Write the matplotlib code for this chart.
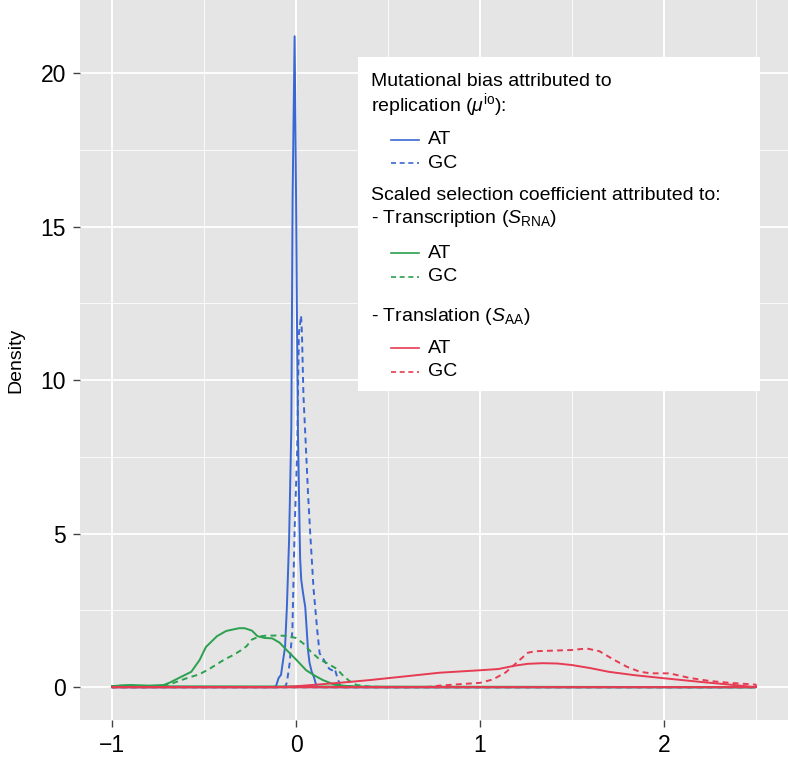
import matplotlib

matplotlib.use("Agg")
import matplotlib.pyplot as plt
from matplotlib.lines import Line2D
from matplotlib.patches import Rectangle

plt.rcParams["font.family"] = ["Liberation Sans", "DejaVu Sans"]
plt.rcParams["mathtext.fontset"] = "custom"
plt.rcParams["mathtext.rm"] = "Liberation Sans"
plt.rcParams["mathtext.it"] = "Liberation Sans:italic"

# density curves (x, density)
rep_at_x = [-1.0, -0.12, -0.108, -0.095, -0.082, -0.07, -0.06, -0.05, -0.038, -0.026,
            -0.022, -0.019, -0.008, 0.0, 0.004, 0.010, 0.018, 0.022, 0.028, 0.037,
            0.05, 0.065, 0.073, 0.085, 0.097, 0.11, 0.118, 2.5]
rep_at_y = [0.0, 0.0, 0.05, 0.3, 0.4, 0.9, 1.3, 2.6, 4.8, 8.4,
            12.6, 15.9, 21.2, 15.9, 12.6, 8.4, 5.5, 4.2, 3.5, 3.1,
            2.6, 1.2, 0.8, 0.5, 0.33, 0.05, 0.0, 0.0]

rep_gc_x = [-1.0, -0.06, -0.05, -0.035, -0.02, -0.008, 0.006, 0.015, 0.027, 0.032,
            0.04, 0.052, 0.065, 0.077, 0.095, 0.115, 0.128, 0.15, 0.165, 0.18,
            0.195, 0.21, 0.225, 0.24, 0.26, 2.5]
rep_gc_y = [0.0, 0.0, 0.15, 0.78, 1.86, 5.1, 7.7, 11.5, 12.1, 11.5,
            9.5, 8.0, 6.3, 5.0, 3.2, 1.86, 1.1, 0.9, 0.75, 0.6,
            0.55, 0.6, 0.3, 0.05, 0.0, 0.0]

rna_at_x = [-1.0, -0.95, -0.9, -0.8, -0.72, -0.69, -0.63, -0.57, -0.525, -0.49,
            -0.43, -0.38, -0.31, -0.28, -0.24, -0.21, -0.17, -0.13, -0.09, -0.05,
            0.0, 0.055, 0.1, 0.146, 0.2, 0.24, 0.3, 0.4, 2.5]
rna_at_y = [0.03, 0.06, 0.07, 0.05, 0.07, 0.14, 0.32, 0.5, 0.88, 1.31,
            1.66, 1.83, 1.92, 1.92, 1.84, 1.66, 1.6, 1.59, 1.45, 1.2,
            0.9, 0.55, 0.38, 0.23, 0.1, 0.06, 0.02, 0.0, 0.0]

rna_gc_x = [-1.0, -0.8, -0.72, -0.66, -0.6, -0.525, -0.47, -0.43, -0.39, -0.34,
            -0.3, -0.27, -0.24, -0.2, -0.16, -0.1, -0.05, 0.0, 0.04, 0.073,
            0.128, 0.175, 0.22, 0.255, 0.29, 0.33, 0.4, 0.5, 2.5]
rna_gc_y = [0.0, 0.0, 0.04, 0.15, 0.28, 0.42, 0.6, 0.75, 0.9, 1.05,
            1.2, 1.33, 1.55, 1.65, 1.68, 1.68, 1.67, 1.6, 1.42, 1.2,
            0.9, 0.76, 0.6, 0.38, 0.2, 0.07, 0.02, 0.0, 0.0]

aa_at_x = [-1.0, -0.1, 0.0, 0.15, 0.29, 0.4, 0.56, 0.78, 1.0, 1.1,
           1.19, 1.26, 1.34, 1.42, 1.5, 1.6, 1.7, 1.84, 2.0, 2.2,
           2.38, 2.5]
aa_at_y = [0.0, 0.0, 0.03, 0.1, 0.17, 0.23, 0.33, 0.47, 0.55, 0.59,
           0.7, 0.76, 0.78, 0.77, 0.72, 0.62, 0.5, 0.39, 0.29, 0.17,
           0.07, 0.0]

aa_gc_x = [-1.0, 0.6, 0.72, 0.78, 0.9, 1.0, 1.07, 1.14, 1.2, 1.26,
           1.3, 1.4, 1.5, 1.58, 1.65, 1.72, 1.8, 1.87, 1.93, 2.03,
           2.14, 2.25, 2.36, 2.48, 2.5]
aa_gc_y = [0.0, 0.0, 0.01, 0.05, 0.1, 0.14, 0.25, 0.48, 0.8, 1.12,
           1.17, 1.19, 1.21, 1.26, 1.17, 0.92, 0.66, 0.5, 0.45, 0.45,
           0.3, 0.2, 0.14, 0.09, 0.08]

BLUE = "#3a67d1"
GREEN = "#2ba04e"
RED = "#e63b52"

series = [
    (rep_at_x, rep_at_y, BLUE, "-"),
    (rep_gc_x, rep_gc_y, BLUE, "--"),
    (rna_at_x, rna_at_y, GREEN, "-"),
    (rna_gc_x, rna_gc_y, GREEN, "--"),
    (aa_at_x, aa_at_y, RED, "-"),
    (aa_gc_x, aa_gc_y, RED, "--"),
]

W, H = 788, 760
fig = plt.figure(figsize=(W / 100, H / 100), dpi=100)
ax = fig.add_axes([80 / W, 40 / H, 708 / W, 720 / H])
ax.set_facecolor("#e5e5e5")
for s in ax.spines.values():
    s.set_visible(False)

ax.set_xlim(-1.175, 2.675)
ax.set_ylim(-1.07, 22.38)
ax.set_xticks([-1, 0, 1, 2])
ax.set_xticklabels(["\u22121", "0", "1", "2"])
ax.set_yticks([0, 5, 10, 15, 20])
ax.set_xticks([-0.5, 0.5, 1.5, 2.5], minor=True)
ax.set_yticks([2.5, 7.5, 12.5, 17.5], minor=True)
ax.grid(which="major", color="white", lw=1.3)
ax.grid(which="minor", color="white", lw=0.6)
ax.set_axisbelow(True)
ax.tick_params(which="major", length=5, width=1, color="#444444",
               labelsize=16.5, labelcolor="black", pad=5)
ax.tick_params(which="minor", length=0)
ax.set_ylabel("Density", fontsize=14, labelpad=12)

# ggplot-style density outlines: curve plus closing baseline
for xs, ys, col, ls in series:
    px = list(xs) + [xs[-1], xs[0]]
    py = list(ys) + [0.0, ys[0]]
    line, = ax.plot(px, py, color=col, lw=1.4, ls=ls, solid_joinstyle="round")
    if ls == "--":
        line.set_dashes((3.0, 2.2))

# legend drawn by hand in figure pixels
def fx(x):
    return x / W


def fy(y):
    return 1 - y / H


fig.patches.append(Rectangle((fx(358), fy(391)), fx(760) - fx(358), fy(57) - fy(391),
                             transform=fig.transFigure, facecolor="white",
                             edgecolor="none", zorder=5))
tx = 371
fs = 14
heads = [
    (81.7, "Mutational bias attributed to"),
    (105, r"replication ($\mu^{\mathrm{io}}$):"),
    (195, "Scaled selection coefficient attributed to:"),
    (218.3, r"- Transcription ($S_{\mathrm{RNA}}$)"),
    (316.7, r"- Translation ($S_{\mathrm{AA}}$)"),
]
for y, t in heads:
    fig.text(fx(tx), fy(y), t, fontsize=fs, va="center", ha="left", zorder=6)

keys = [(140, BLUE, "-", "AT"), (163.3, BLUE, "--", "GC"),
        (253.3, GREEN, "-", "AT"), (276.7, GREEN, "--", "GC"),
        (348.3, RED, "-", "AT"), (371.7, RED, "--", "GC")]
for y, col, ls, lab in keys:
    ln = Line2D([fx(391), fx(419)], [fy(y), fy(y)], transform=fig.transFigure,
                color=col, lw=1.2, ls=ls, zorder=6)
    if ls == "--":
        ln.set_dashes((3.0, 2.2))
    fig.lines.append(ln)
    fig.text(fx(427.7), fy(y), lab, fontsize=fs, va="center", ha="left", zorder=6)

fig.savefig("out.png", dpi=100)
